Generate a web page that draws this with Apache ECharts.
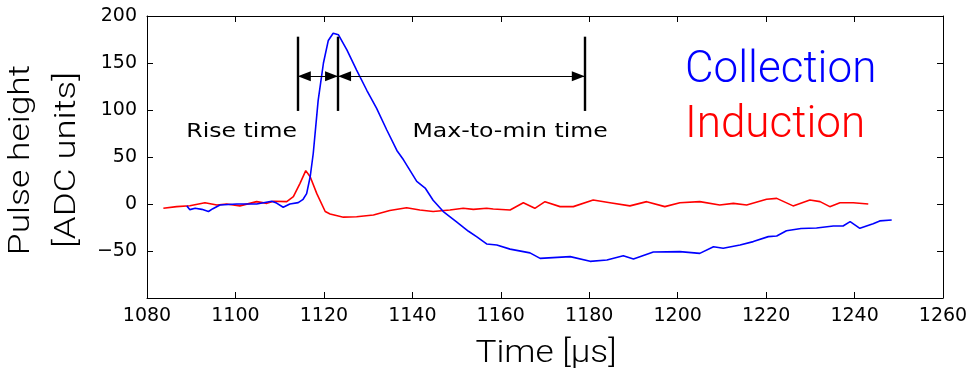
<!DOCTYPE html>
<html>
<head>
<meta charset="utf-8">
<script src="https://cdn.jsdelivr.net/npm/echarts@6/dist/echarts.min.js"></script>
<style>
html,body{margin:0;padding:0;background:#fff;}
#chart{width:972px;height:374px;}
</style>
</head>
<body>
<div id="chart"></div>
<script>
// ---- Data ----
const collectionTime = [1089.0,1089.7,1090.9,1092.4,1093.9,1094.9,1096.5,1100.3,1104.8,1108.2,1109.3,1110.8,1112.3,1114.2,1115.3,1116.1,1116.9,1117.6,1118.7,1119.9,1121.0,1122.1,1123.3,1125.2,1127.4,1129.7,1131.9,1134.2,1136.5,1138.0,1141.0,1142.9,1144.7,1147.0,1150.0,1152.7,1154.6,1156.8,1159.1,1162.1,1166.6,1168.9,1175.7,1180.2,1184.0,1187.7,1190.0,1194.5,1200.5,1205.0,1208.1,1210.3,1214.1,1217.1,1220.5,1222.4,1224.6,1227.9,1231.4,1235.2,1237.4,1239.0,1241.2,1244.2,1245.7,1248.4];
const collectionValues = [-2,-6,-4.6,-5.7,-8,-5,-1,0,0,3,1,-3.5,0,1.5,5,11,29,54,110,150,174,181.6,180,164,142.5,121,102,79,57,47,24,17,4,-8,-19,-29,-35,-42.5,-43.6,-48,-52,-57.8,-56,-61,-59.6,-55,-58.5,-51,-50.7,-52.5,-45.4,-47,-43.6,-40,-34.7,-34,-28.4,-26,-25.5,-23.4,-23.4,-18.8,-25.9,-21,-18,-17];

const inductionTime = [1083.7,1086.7,1089.7,1093.1,1095.8,1098.0,1101.0,1104.8,1107.1,1108.6,1111.6,1113.1,1114.6,1115.9,1116.9,1118.4,1120.3,1121.4,1124.4,1127.4,1131.2,1134.9,1138.7,1141.7,1144.7,1148.5,1151.5,1153.8,1156.8,1158.3,1162.1,1165.1,1167.7,1170.0,1173.4,1176.4,1180.9,1184.7,1189.2,1193.0,1197.1,1200.5,1205.0,1209.5,1212.6,1215.6,1220.1,1222.4,1226.1,1229.9,1232.2,1234.4,1236.7,1239.7,1243.1];
const inductionValues = [-4.6,-2.8,-1.8,1.4,-1,0,-2,2.5,0.7,3,2.5,7.8,22,35.5,29,11,-8,-10.6,-14,-13.5,-11.7,-7,-3.9,-6.4,-8,-6.4,-4.6,-5.7,-4.6,-5.3,-6.4,1.4,-4.6,2.5,-2.8,-2.8,4.3,1.4,-2,2.5,-2.8,1.4,2.5,-1,0.7,-1,5,6,-2,4.3,2.5,-2.8,1.4,1.4,0];

// annotation markers: rise start, peak, minimum (time)
const markerTimes = [1114.1, 1123.2, 1179.0];
const markerRange = [99, 178];   // vertical extent of marker bars
const arrowLevel = [136];        // height of the double arrows
const annotationLabels = ['Rise time', 'Max-to-min time'];
const annotationLabelPos = [[1101.4, 76.6], [1162.1, 76.6]];

const xTicks = {min: 1080, max: 1260, interval: 20};
const yTicks = {min: -100, max: 200, interval: 50};

const seriesNames = ['Collection', 'Induction'];
const seriesColors = ['#0000ff', '#ff0000'];

// ---- Build ----
const zip = (a, b) => a.map((t, i) => [t, b[i]]);
const chart = echarts.init(document.getElementById('chart'), null, {renderer: 'canvas'});

const axisLineStyle = {color: '#000', width: 1};
const tickFont = {fontFamily: 'DejaVu Sans', fontSize: 19, color: '#000'};

const barData = markerTimes.map(t => [{coord: [t, markerRange[0]]}, {coord: [t, markerRange[1]]}]);
const arrowData = [
  [{coord: [markerTimes[0], arrowLevel[0]]}, {coord: [markerTimes[1], arrowLevel[0]]}],
  [{coord: [markerTimes[1], arrowLevel[0]]}, {coord: [markerTimes[2], arrowLevel[0]]}]
];

const option = {
  animation: false,
  backgroundColor: '#fff',
  grid: {left: 147, right: 29, top: 16, bottom: 76, containLabel: false},
  xAxis: [
    {type: 'value', position: 'bottom', min: xTicks.min, max: xTicks.max, interval: xTicks.interval,
      axisLine: {show: true, onZero: false, lineStyle: axisLineStyle},
      axisTick: {show: true, inside: true, length: 6, lineStyle: axisLineStyle},
      axisLabel: Object.assign({margin: 9, showMinLabel: true, showMaxLabel: true,
        formatter: v => String(v)}, tickFont),
      splitLine: {show: false}},
    {type: 'value', position: 'top', min: xTicks.min, max: xTicks.max, interval: xTicks.interval,
      axisLine: {show: true, onZero: false, lineStyle: axisLineStyle},
      axisTick: {show: true, inside: true, length: 6, lineStyle: axisLineStyle},
      axisLabel: {show: false}, splitLine: {show: false}}
  ],
  yAxis: [
    {type: 'value', position: 'left', min: yTicks.min, max: yTicks.max, interval: yTicks.interval,
      axisLine: {show: true, onZero: false, lineStyle: axisLineStyle},
      axisTick: {show: true, inside: true, length: 6, lineStyle: axisLineStyle},
      axisLabel: Object.assign({margin: 10, showMinLabel: true, showMaxLabel: true,
        formatter: v => v === yTicks.min ? '' : String(v).replace('-', '\u2212')}, tickFont),
      splitLine: {show: false}},
    {type: 'value', position: 'right', min: yTicks.min, max: yTicks.max, interval: yTicks.interval,
      axisLine: {show: true, onZero: false, lineStyle: axisLineStyle},
      axisTick: {show: true, inside: true, length: 6, lineStyle: axisLineStyle},
      axisLabel: {show: false}, splitLine: {show: false}}
  ],
  series: [
    {name: seriesNames[0], type: 'line', data: zip(collectionTime, collectionValues), showSymbol: false,
      lineStyle: {color: seriesColors[0], width: 1.6}, itemStyle: {color: seriesColors[0]}, silent: true, z: 3},
    {name: seriesNames[1], type: 'line', data: zip(inductionTime, inductionValues), showSymbol: false,
      lineStyle: {color: seriesColors[1], width: 1.6}, itemStyle: {color: seriesColors[1]}, silent: true, z: 2},
    {name: 'markers', type: 'line', data: [], silent: true,
      markLine: {silent: true, symbol: ['none', 'none'], label: {show: false},
        lineStyle: {color: '#000', width: 2.4, type: 'solid'}, emphasis: {disabled: true}, data: barData}},
    {name: 'arrows', type: 'line', data: [], silent: true,
      markLine: {silent: true, symbol: ['triangle', 'triangle'], symbolSize: [10, 13],
        symbolOffset: [[0, 6.5], [0, 6.5]],
        label: {show: false},
        lineStyle: {color: '#000', width: 1.2, type: 'solid'}, itemStyle: {color: '#000'},
        emphasis: {disabled: true}, data: arrowData}}
  ]
};
chart.setOption(option);

const px = (t, v) => chart.convertToPixel({xAxisIndex: 0, yAxisIndex: 0}, [t, v]);
const graphics = [];
annotationLabels.forEach((txt, i) => {
  const p = px(annotationLabelPos[i][0], annotationLabelPos[i][1]);
  graphics.push({type: 'text', x: p[0], y: p[1], scaleX: 1.18, silent: true,
    style: {text: txt, fontFamily: 'DejaVu Sans', fontSize: 20, fill: '#000', align: 'center', verticalAlign: 'middle'}});
});
const titleFont = {fontFamily: 'Roboto', fontWeight: 300};
graphics.push({type: 'text', x: 21, y: 160, rotation: Math.PI / 2, scaleX: 1.18, silent: true,
  style: Object.assign({text: 'Pulse height', fontSize: 30, fill: '#000', align: 'center', verticalAlign: 'middle'}, titleFont)});
graphics.push({type: 'text', x: 67, y: 160, rotation: Math.PI / 2, scaleX: 1.22, silent: true,
  style: Object.assign({text: '[ADC units]', fontSize: 30, fill: '#000', align: 'center', verticalAlign: 'middle'}, titleFont)});
graphics.push({type: 'text', x: 546, y: 354, scaleX: 1.1, silent: true,
  style: Object.assign({text: 'Time [\u00b5s]', fontSize: 32, fill: '#000', align: 'center', verticalAlign: 'middle'}, titleFont)});
graphics.push({type: 'text', x: 685, y: 71, silent: true,
  style: Object.assign({text: seriesNames[0], fontSize: 44, fill: seriesColors[0], align: 'left', verticalAlign: 'middle'}, titleFont)});
graphics.push({type: 'text', x: 685, y: 126, silent: true,
  style: Object.assign({text: seriesNames[1], fontSize: 44, fill: seriesColors[1], align: 'left', verticalAlign: 'middle'}, titleFont)});
chart.setOption({graphic: graphics});
</script>
</body>
</html>
